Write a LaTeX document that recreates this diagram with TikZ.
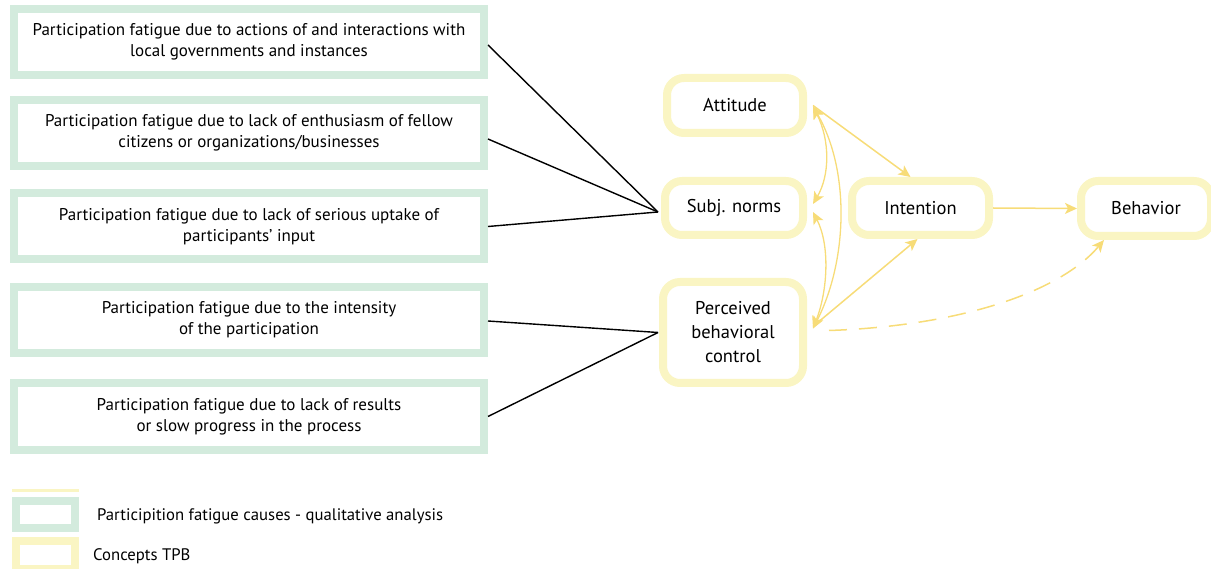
\documentclass[tikz,border=0pt]{standalone}
\usepackage{fontspec}
\setmainfont{PT Sans}
\usetikzlibrary{arrows.meta,calc}
\definecolor{cgreen}{HTML}{D3EBDD}
\definecolor{cyellow}{HTML}{FAF5C3}
\definecolor{carrow}{HTML}{F7DC78}
\tikzset{
  cause/.style={draw=cgreen, line width=8pt, fill=white, minimum width=470pt, minimum height=66pt, inner sep=0pt, align=center, font=\fontsize{17}{21}\selectfont},
  tpb/.style={draw=cyellow, line width=8pt, fill=white, rounded corners=17pt, inner sep=0pt, align=center, font=\fontsize{18.5}{24}\selectfont},
  blk/.style={black, line width=1.4pt},
  yarr/.style={carrow, line width=1.5pt, -{Stealth[length=12pt,width=11pt,inset=3pt]}},
  ydbl/.style={carrow, line width=1.3pt, {Stealth[length=12pt,width=11pt,inset=3pt]}-{Stealth[length=12pt,width=11pt,inset=3pt]}},
  legtext/.style={anchor=west, inner sep=0pt, font=\fontsize{16.7}{19}\selectfont}
}
\begin{document}
\begin{tikzpicture}[x=1pt,y=-1pt]
\useasboundingbox (0,0) rectangle (1211,569);
% cause boxes
\node[cause] (c1) at (249,42) {Participation fatigue due to actions of and interactions with\\local governments and instances};
\node[cause] (c2) at (249,133) {Participation fatigue due to lack of enthusiasm of fellow\\citizens or organizations/businesses};
\node[cause] (c3) at (249,226.5) {Participation fatigue due to lack of serious uptake of\\participants' input};
\node[cause] (c4) at (249,320) {Participation fatigue due to the intensity\\of the participation};
\node[cause] (c5) at (249,416.5) {Participation fatigue due to lack of results\\or slow progress in the process};
% TPB nodes
\node[tpb, minimum width=136pt, minimum height=55pt] (at) at (735,105.5) {Attitude};
\node[tpb, minimum width=138pt, minimum height=54pt] (sn) at (734,208) {Subj. norms};
\node[tpb, minimum width=140pt, minimum height=101pt] (pb) at (733,332.5) {Perceived\\behavioral\\control};
\node[tpb, minimum width=137pt, minimum height=54pt] (in) at (920.5,208) {Intention};
\node[tpb, minimum width=130pt, minimum height=55pt] (bh) at (1146,208.5) {Behavior};
% convergence points
\coordinate (snp) at ($(sn.west)+(-3,4)$);
\coordinate (pbp) at ($(pb.west)+(-1,0)$);
% black connectors
\draw[blk] ($(c1.east)+(0,3)$) -- (snp);
\draw[blk] ($(c2.east)+(0,6)$) -- (snp);
\draw[blk] ($(c3.east)+(0,0)$) -- (snp);
\draw[blk] ($(c4.east)+(0,1)$) -- (pbp);
\draw[blk] ($(c5.east)+(0,0)$) -- (pbp);
% yellow arrows
\draw[yarr] ($(at.east)+(6,0)$) -- ($(in.north)+(-10,0)$);
\draw[yarr] ($(pb.east)+(6,-6)$) -- ($(in.south)+(-3,0)$);
\draw[yarr] (in.east) -- (bh.west);
\draw[yarr, dash pattern=on 18pt off 12pt] ($(pb.east)+(22,-2)$) .. controls (960,326) and (1060,292) .. ($(bh.south)+(-42,0)$);
\draw[ydbl] ($(at.east)+(6,1)$) .. controls (830,140) and (830,175) .. ($(sn.east)+(6,-4)$);
\draw[ydbl] ($(sn.east)+(6,4)$) .. controls (830,245) and (828,290) .. ($(pb.east)+(6,-4)$);
\draw[ydbl] ($(at.east)+(6,1)$) .. controls (850,170) and (848,260) .. ($(pb.east)+(6,-4)$);
% legend
\fill[cyellow] (12,488.5) rectangle (79,491.5);
\node[draw=cgreen, line width=8pt, minimum width=59pt, minimum height=27pt, inner sep=0pt] (lg) at (45.5,514.5) {};
\node[draw=cyellow, line width=8pt, minimum width=59pt, minimum height=28pt, inner sep=0pt] (ly) at (45.5,555) {};
\node[legtext] (lgt) at (97,516) {Participition fatigue causes - qualitative analysis};
\node[legtext] (lyt) at (93,556) {Concepts TPB};
\end{tikzpicture}
\end{document}
